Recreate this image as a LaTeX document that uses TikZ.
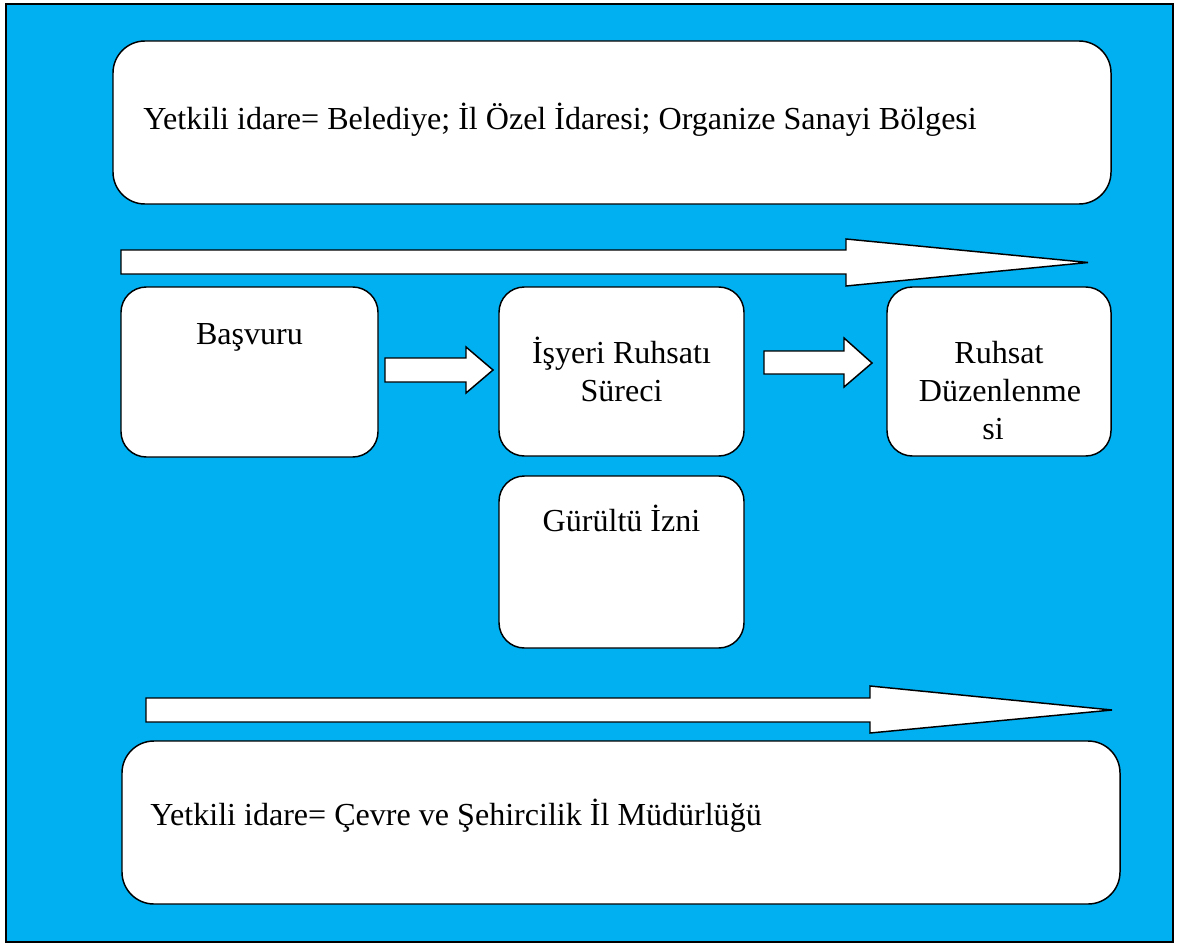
\documentclass[tikz,border=0pt]{standalone}
\usepackage{fontspec}
\setmainfont{Liberation Serif}
\usetikzlibrary{fit}
\definecolor{bgblue}{HTML}{00B0F0}
\tikzset{
  bigbox/.style={draw=black, line width=1.1pt, fill=white, rounded corners=24pt, inner sep=0pt},
  smallbox/.style={draw=black, line width=1.1pt, fill=white, rounded corners=19pt, inner sep=0pt},
  blockarrow/.style={draw=black, line width=1.1pt, fill=white, line join=miter},
  lbl/.style={font=\fontsize{24.05}{28.5}\selectfont, inner sep=0pt, align=center},
}
\begin{document}
\begin{tikzpicture}[x=0.75pt,y=-0.75pt]
\useasboundingbox (0,0) rectangle (1180,945);
\fill[white] (0,0) rectangle (1180,945);
\draw[line width=1.8pt, fill=bgblue] (6,4) rectangle (1173,942);

% top box
\node[bigbox, fit={(113,41) (1111,204)}] (top) {};
\node[lbl, anchor=base west] (toptxt) at (143,130) {Yetkili idare= Belediye; İl Özel İdaresi; Organize Sanayi Bölgesi};

% top long arrow
\draw[blockarrow] (121,250) -- (846,250) -- (846,239) -- (1088,262.5) -- (846,286) -- (846,274) -- (121,274) -- cycle;

% middle boxes
\node[smallbox, fit={(121,287) (378,457)}] (basvuru) {};
\node[lbl, anchor=base] (basvurutxt) at (249.5,344) {Başvuru};

\node[smallbox, fit={(499,287) (744,456)}] (isyeri) {};
\node[lbl, anchor=base] (isyeritxt) at (621.5,363) {İşyeri Ruhsatı};
\node[lbl, anchor=base] (isyeritxt2) at (621.5,401) {Süreci};

\node[smallbox, fit={(887,287) (1111,456)}] (ruhsat) {};
\node[lbl, anchor=base] (ruhsattxt) at (999,363) {Ruhsat};
\node[lbl, anchor=base] (ruhsattxt2) at (1000,401) {Düzenlenme};
\node[lbl, anchor=base] (ruhsattxt3) at (993,439) {si};

\node[smallbox, fit={(499,476) (744,648)}] (gurultu) {};
\node[lbl, anchor=base] (gurultutxt) at (621.5,531) {Gürültü İzni};

% small arrows
\draw[blockarrow] (385,358) -- (466,358) -- (466,347) -- (493,370) -- (466,393) -- (466,382) -- (385,382) -- cycle;
\draw[blockarrow] (764,351) -- (844,351) -- (844,338) -- (872,363) -- (844,387) -- (844,374) -- (764,374) -- cycle;

% bottom long arrow
\draw[blockarrow] (146,698) -- (870,698) -- (870,686) -- (1112,710) -- (870,733) -- (870,722) -- (146,722) -- cycle;

% bottom box
\node[bigbox, fit={(122,741) (1120,904)}] (bottom) {};
\node[lbl, anchor=base west] (bottomtxt) at (150,825) {Yetkili idare= Çevre ve Şehircilik İl Müdürlüğü};
\end{tikzpicture}
\end{document}
